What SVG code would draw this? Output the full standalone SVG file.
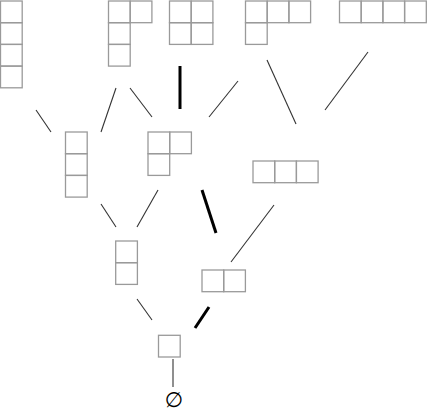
<svg xmlns="http://www.w3.org/2000/svg" width="427" height="412" viewBox="0 0 427 412">
<style>
.c{fill:none;stroke:#9a9a9a;stroke-width:1.3}
.e{stroke:#333;stroke-width:1.1;fill:none}
.t{stroke:#000;stroke-width:3;fill:none}
.l{font-family:"DejaVu Sans",sans-serif;font-size:21px;fill:#000}
</style>
<defs>
<rect id="b" class="c" width="21.7" height="21.7"/>
</defs>
<rect width="427" height="412" fill="#fff"/>
<g id="connectors">
<line class="e" x1="36" y1="110" x2="51" y2="132"/>
<line class="e" x1="116" y1="88" x2="101" y2="132"/>
<line class="e" x1="130" y1="88" x2="152" y2="117"/>
<line class="t" x1="180" y1="66" x2="180" y2="109"/>
<line class="e" x1="238" y1="81" x2="209" y2="117"/>
<line class="e" x1="267" y1="60" x2="296" y2="124"/>
<line class="e" x1="368" y1="52" x2="325" y2="110"/>
<line class="e" x1="101" y1="204" x2="116" y2="227"/>
<line class="e" x1="158" y1="190" x2="137" y2="227"/>
<line class="t" x1="202" y1="190" x2="216" y2="233"/>
<line class="e" x1="274" y1="205" x2="231" y2="262"/>
<line class="e" x1="137" y1="299" x2="152" y2="320"/>
<line class="t" x1="209" y1="307" x2="195" y2="328"/>
<line class="e" x1="173" y1="359" x2="173" y2="387"/>
</g>
<g id="p1111">
<use href="#b" x="0.5" y="1"/><use href="#b" x="0.5" y="22.7"/><use href="#b" x="0.5" y="44.4"/><use href="#b" x="0.5" y="66.1"/>
</g>
<g id="p211">
<use href="#b" x="108.5" y="1"/><use href="#b" x="130.2" y="1"/><use href="#b" x="108.5" y="22.7"/><use href="#b" x="108.5" y="44.4"/>
</g>
<g id="p22">
<use href="#b" x="169.5" y="1"/><use href="#b" x="191.2" y="1"/><use href="#b" x="169.5" y="22.7"/><use href="#b" x="191.2" y="22.7"/>
</g>
<g id="p31">
<use href="#b" x="245.5" y="1"/><use href="#b" x="267.2" y="1"/><use href="#b" x="288.9" y="1"/><use href="#b" x="245.5" y="22.7"/>
</g>
<g id="p4">
<use href="#b" x="339.5" y="1"/><use href="#b" x="361.2" y="1"/><use href="#b" x="382.9" y="1"/><use href="#b" x="404.6" y="1"/>
</g>
<g id="p111">
<use href="#b" x="65.5" y="132"/><use href="#b" x="65.5" y="153.7"/><use href="#b" x="65.5" y="175.4"/>
</g>
<g id="p21">
<use href="#b" x="148" y="132"/><use href="#b" x="169.7" y="132"/><use href="#b" x="148" y="153.7"/>
</g>
<g id="p3">
<use href="#b" x="253" y="161"/><use href="#b" x="274.7" y="161"/><use href="#b" x="296.4" y="161"/>
</g>
<g id="p11">
<use href="#b" x="115.7" y="241"/><use href="#b" x="115.7" y="262.7"/>
</g>
<g id="p2">
<use href="#b" x="202" y="270"/><use href="#b" x="223.7" y="270"/>
</g>
<g id="p1">
<use href="#b" x="158.5" y="335.3"/>
</g>
<g id="empty">
<text class="l" x="174" y="407" text-anchor="middle">∅</text>
</g>
</svg>
